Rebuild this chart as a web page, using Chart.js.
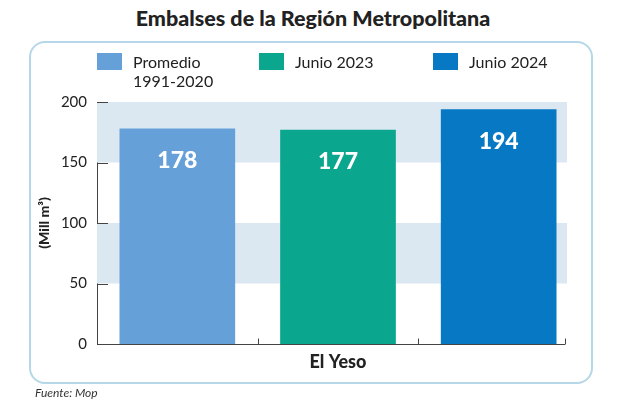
<!DOCTYPE html>
<html>
<head>
<meta charset="utf-8">
<script src="https://cdn.jsdelivr.net/npm/chart.js@4.4.1/dist/chart.umd.min.js"></script>
<style>
  html, body { margin: 0; padding: 0; background: #fff; }
  body { width: 626px; height: 403px; position: relative; overflow: hidden; font-family: Lato, "Open Sans", sans-serif; color: #222; }
  #title { position: absolute; left: 0; top: 5px; width: 626px; text-align: center; font-weight: 900; font-size: 21.5px; color: #222; }
  #box { position: absolute; left: 29px; top: 41px; width: 560px; height: 339px; border: 2px solid #b5d7e7; border-radius: 16px; }
  #chartWrap { position: absolute; left: 0; top: 0; width: 626px; height: 403px; }
  #legend { position: absolute; left: 0; top: 0; width: 626px; height: 100px; }
  .item { position: absolute; top: 52px; display: flex; align-items: flex-start; font-size: 16px; line-height: 19px; color: #222; }
  .swatch { width: 25px; height: 17px; margin-right: 11px; margin-top: 1px; }
  #source { position: absolute; left: 35px; top: 385px; font-style: italic; font-size: 12px; color: #333; }
</style>
</head>
<body>
<div id="title">Embalses de la Región Metropolitana</div>
<div id="box"></div>
<div id="chartWrap"><canvas id="chart" width="626" height="403"></canvas></div>
<div id="legend"></div>
<div id="source">Fuente: Mop</div>
<script>
// data
const categories = ['El Yeso - Promedio', 'El Yeso - Junio 2023', 'El Yeso - Junio 2024'];
const seriesNames = [['Promedio', '1991-2020'], ['Junio 2023'], ['Junio 2024']];
const seriesValues = [178, 177, 194];
const seriesColors = ['#65a0d8', '#0aa68d', '#0678c4'];
const yTicks = [0, 50, 100, 150, 200];
const bandRanges = [[150, 200], [50, 100]];
const legendX = [97, 259, 433];

// one dataset per series, only its own category filled
const datasets = seriesValues.map((v, i) => ({
  label: seriesNames[i],
  data: categories.map((c, j) => (j === i ? v : null)),
  backgroundColor: seriesColors[i],
  borderWidth: 0,
  categoryPercentage: 1,
  barPercentage: 0.72
}));

// shaded horizontal bands behind the bars
const bandsPlugin = {
  id: 'bands',
  beforeDatasetsDraw(chart) {
    const { ctx, chartArea } = chart;
    const y = chart.scales.y;
    const right = chartArea.right - 12;
    ctx.save();
    ctx.fillStyle = '#dce8f1';
    bandRanges.forEach(([lo, hi]) => {
      const top = y.getPixelForValue(hi);
      const bottom = y.getPixelForValue(lo);
      ctx.fillRect(chartArea.left, top, right - chartArea.left, bottom - top);
    });
    ctx.restore();
  }
};

// axis line and small inward tick marks
const axisPlugin = {
  id: 'axisMarks',
  afterDatasetsDraw(chart) {
    const { ctx, chartArea } = chart;
    const x = chart.scales.x;
    const y = chart.scales.y;
    const axisRight = chartArea.right - 14;
    ctx.save();
    ctx.strokeStyle = '#444';
    ctx.lineWidth = 1;
    ctx.beginPath();
    // y ticks
    y.ticks.forEach(t => {
      if (t.value === 0) return;
      const py = Math.round(y.getPixelForValue(t.value)) + 0.5;
      ctx.moveTo(chartArea.left, py);
      ctx.lineTo(chartArea.left + 11, py);
    });
    // x axis
    const by = Math.round(chartArea.bottom) + 0.5;
    ctx.moveTo(chartArea.left, by);
    ctx.lineTo(axisRight, by);
    // x ticks at category boundaries
    for (let i = 0; i < categories.length - 1; i++) {
      const px = Math.round((x.getPixelForValue(i) + x.getPixelForValue(i + 1)) / 2) + 0.5;
      ctx.moveTo(px, by);
      ctx.lineTo(px, by - 6);
    }
    ctx.moveTo(Math.round(axisRight) + 0.5, by);
    ctx.lineTo(Math.round(axisRight) + 0.5, by - 6);
    ctx.stroke();
    ctx.restore();
  }
};

// value labels inside the bars
const valuePlugin = {
  id: 'values',
  afterDatasetsDraw(chart) {
    const { ctx } = chart;
    ctx.save();
    ctx.fillStyle = '#fff';
    ctx.font = '900 23px Lato';
    ctx.textAlign = 'center';
    ctx.textBaseline = 'middle';
    chart.data.datasets.forEach((ds, di) => {
      chart.getDatasetMeta(di).data.forEach((bar, j) => {
        if (ds.data[j] == null) return;
        ctx.fillText(ds.data[j], bar.x, bar.y + 32);
      });
    });
    ctx.restore();
  }
};

const chart = new Chart(document.getElementById('chart'), {
  type: 'bar',
  data: { labels: categories, datasets },
  options: {
    responsive: false,
    animation: false,
    layout: { padding: { top: 102, left: 0, right: 47, bottom: 0 } },
    datasets: { bar: { skipNull: true } },
    plugins: {
      legend: { display: false },
      tooltip: { enabled: false },
      title: { display: false }
    },
    scales: {
      x: {
        afterFit(scale) { scale.height = 59; },
        ticks: { display: false },
        grid: { display: false, drawTicks: false },
        border: { display: false },
        title: {
          display: true,
          text: 'El Yeso',
          color: '#222',
          font: { family: 'Lato', size: 18, weight: '900' },
          padding: { top: 0, bottom: 30 }
        }
      },
      y: {
        min: 0,
        max: 200,
        afterFit(scale) { scale.width = 97; },
        afterBuildTicks(scale) { scale.ticks = yTicks.map(v => ({ value: v })); },
        ticks: { color: '#222', padding: 10, font: { family: 'Lato', size: 15 } },
        grid: { display: false, drawTicks: false },
        border: { display: true, color: '#444', width: 1 },
        title: {
          display: true,
          text: '(Mill m³)',
          color: '#222',
          font: { family: 'Lato', size: 14, weight: '900' },
          padding: { top: 36, bottom: 0 }
        }
      }
    }
  },
  plugins: [bandsPlugin, axisPlugin, valuePlugin]
});

// legend built from the chart's datasets
const legend = document.getElementById('legend');
chart.data.datasets.forEach((ds, i) => {
  const item = document.createElement('div');
  item.className = 'item';
  item.style.left = legendX[i] + 'px';
  const sw = document.createElement('div');
  sw.className = 'swatch';
  sw.style.background = ds.backgroundColor;
  const txt = document.createElement('div');
  txt.innerHTML = ds.label.join('<br>');
  item.appendChild(sw);
  item.appendChild(txt);
  legend.appendChild(item);
});
</script>
</body>
</html>
